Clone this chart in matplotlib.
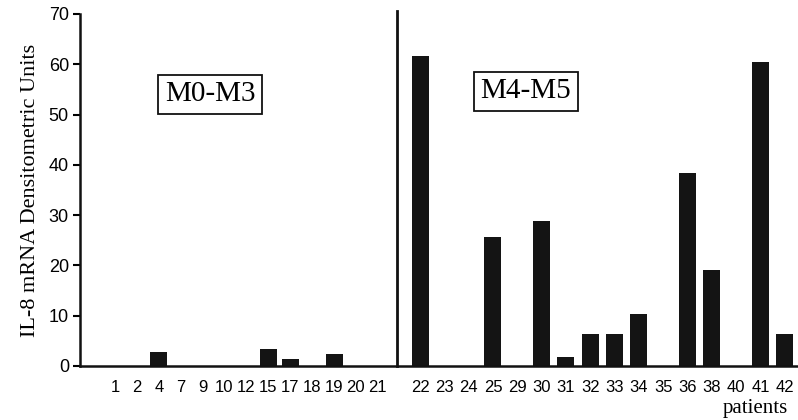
import matplotlib
matplotlib.use("Agg")
import matplotlib.pyplot as plt

# patient ids and IL-8 values
left_ids = ["1", "2", "4", "7", "9", "10", "12", "15", "17", "18", "19", "20", "21"]
left_vals = [0, 0, 2.8, 0, 0, 0, 0, 3.4, 1.4, 0, 2.4, 0, 0]
right_ids = ["22", "23", "24", "25", "29", "30", "31", "32", "33", "34", "35",
             "36", "38", "40", "41", "42"]
right_vals = [61.6, 0, 0, 25.7, 0, 28.8, 1.8, 6.4, 6.4, 10.3, 0,
              38.3, 19.0, 0, 60.4, 6.4]

# x layout in pixel-like units
left_x = [115 + 21.9 * i for i in range(len(left_ids))]
right_x = [420 + 24.33 * j for j in range(len(right_ids))]

fig = plt.figure(figsize=(7.98, 4.2), dpi=100)
ax = fig.add_axes([80 / 798, 54 / 420, 717 / 798, 352 / 420])

ax.bar(left_x, left_vals, width=17, color="#141414")
ax.bar(right_x, right_vals, width=17, color="#141414")

ax.set_xlim(80, 797)
ax.set_ylim(0, 70)
ax.set_yticks(range(0, 71, 10))

ax.set_xticks(left_x + right_x)
ax.set_xticklabels(left_ids + right_ids,
                   family=["Liberation Sans Narrow", "Liberation Sans"], fontsize=12)
ax.tick_params(axis="x", length=0, pad=10)
ax.tick_params(axis="y", direction="out", length=5, width=1.5, labelsize=13, pad=3)
for lab in ax.get_yticklabels():
    lab.set_family("Liberation Sans")

for s in ["top", "right"]:
    ax.spines[s].set_visible(False)
for s in ["left", "bottom"]:
    ax.spines[s].set_linewidth(1.8)
    ax.spines[s].set_color("#111111")

# group separator
ax.plot([397, 397], [0, 70.5], color="#111111", lw=2, clip_on=False)

ax.text(210, 54, "M0-M3", family="Liberation Serif", fontsize=21, ha="center", va="center",
        bbox=dict(boxstyle="square,pad=0.22", fc="white", ec="#111111", lw=1.3))
ax.text(526, 54.6, "M4-M5", family="Liberation Serif", fontsize=21, ha="center", va="center",
        bbox=dict(boxstyle="square,pad=0.22", fc="white", ec="#111111", lw=1.3))

ax.set_ylabel("IL-8 mRNA Densitometric Units", family="Liberation Serif", fontsize=16, labelpad=6)
fig.text(788 / 798, 1 - 409 / 420, "patients", family="Liberation Serif", fontsize=15,
         ha="right", va="center")

fig.savefig("out.png", dpi=100)
